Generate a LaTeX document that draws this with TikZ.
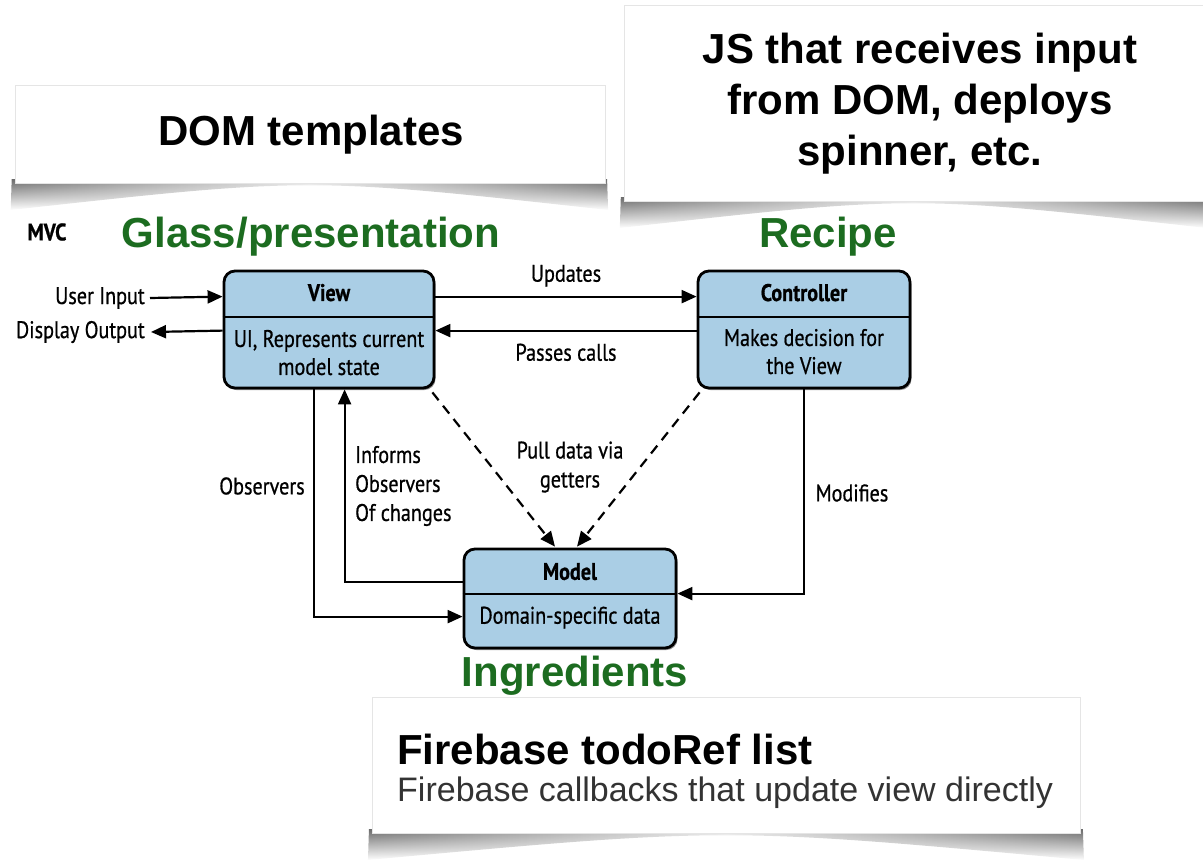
\documentclass[tikz,border=0pt]{standalone}
\usepackage{fontspec}
\setmainfont{Liberation Sans}
\newfontfamily\mvcfont[FakeStretch=0.84, FakeBold=0.7]{PT Sans}
\usetikzlibrary{calc,shadows,fadings,arrows.meta}
\definecolor{boxblue}{RGB}{170,206,229}
\definecolor{tagGreen}{RGB}{28,108,32}

% curled paper shadow under a note card: x left, x right, y of the card's lower edge
\newcommand\curlshade[3]{%
  \shade[left color=black!62, right color=black!62, middle color=black!10, path fading=south]
    ({#1-3},{#3-4}) -- ({#2+3},{#3-4}) -- ({#2+4},{#3+27})
    .. controls ({(#1+#2)/2},{#3-6}) .. ({#1-4},{#3+27}) -- cycle;}

\begin{document}
\begin{tikzpicture}[x=1pt,y=-1pt,
  note/.style={fill=white, draw=black!10, line width=0.8pt, inner sep=0pt},
  notehead/.style={font=\bfseries\fontsize{42}{51}\selectfont, align=center, inner sep=0pt},
  mvcbox/.style={draw=black, line width=2.8pt, fill=boxblue, rounded corners=11pt, inner sep=0pt,
    drop shadow={shadow xshift=1.5pt, shadow yshift=-2pt, opacity=0.45, fill=black}},
  divider/.style={line width=2.2pt},
  boxtitle/.style={font=\mvcfont\bfseries\fontsize{24}{28}\selectfont, inner sep=0pt},
  boxtext/.style={font=\mvcfont\fontsize{24}{28}\selectfont, align=center, inner sep=0pt},
  lbl/.style={font=\mvcfont\fontsize{24}{29}\selectfont, inner sep=0pt},
  tag/.style={font=\bfseries\fontsize{42}{48}\selectfont, text=tagGreen, inner sep=0pt},
  conn/.style={line width=2.2pt, -{Triangle[length=15pt,width=13pt]}},
  dconn/.style={conn, dash pattern=on 10pt off 7pt}
]
\useasboundingbox (0,0) rectangle (1203,860);

% ---- note cards ----
\curlshade{15}{605}{183}
\node[note, minimum width=590pt, minimum height=98pt] (dom) at (310,134) {};
\node[notehead] (domtext) at (311,135) {DOM templates};

\curlshade{624}{1203}{201}
\node[note, minimum width=590pt, minimum height=196pt] (js) at (919,103) {};
\node[notehead] (jstext) at (920,104) {JS that receives input\\from DOM, deploys\\spinner, etc.};

\curlshade{372}{1080}{833}
\node[note, minimum width=708pt, minimum height=136pt] (fb) at (726,765) {};
\node[font=\bfseries\fontsize{42}{48}\selectfont, anchor=west, inner sep=0pt] (fbtitle) at (397,749) {Firebase todoRef list};
\node[font=\fontsize{34}{40}\selectfont, text=black!80, anchor=west, inner sep=0pt] (fbsub) at (397,793) {Firebase callbacks that update view directly};

% ---- headings ----
\node[font=\mvcfont\bfseries\fontsize{24}{28}\selectfont, inner sep=0pt] (mvc) at (47,232) {MVC};
\node[tag] (glass) at (311,237) {Glass/presentation};
\node[tag] (recipe) at (828,237) {Recipe};
\node[tag] (ingr) at (575,676) {Ingredients};

% ---- MVC boxes ----
\node[mvcbox, minimum width=210pt, minimum height=117pt] (view) at (329,329.5) {};
\draw[divider] ($(view.north west)+(0,47)$) -- ($(view.north east)+(0,47)$);
\node[boxtitle] (viewT) at ($(view.north)+(0,23)$) {View};
\node[boxtext] (viewB) at ($(view.north)+(0,83)$) {UI, Represents current\\model state};

\node[mvcbox, minimum width=212pt, minimum height=117pt] (ctrl) at (804,329.5) {};
\draw[divider] ($(ctrl.north west)+(0,47)$) -- ($(ctrl.north east)+(0,47)$);
\node[boxtitle] (ctrlT) at ($(ctrl.north)+(0,23)$) {Controller};
\node[boxtext] (ctrlB) at ($(ctrl.north)+(0,82)$) {Makes decision for\\the View};

\node[mvcbox, minimum width=212pt, minimum height=99pt] (model) at (570,598.5) {};
\draw[divider] ($(model.north west)+(0,46)$) -- ($(model.north east)+(0,46)$);
\node[boxtitle] (modelT) at ($(model.north)+(0,24)$) {Model};
\node[boxtext] (modelB) at ($(model.north)+(0,70)$) {Domain-specific data};

% ---- outer input / output ----
\node[lbl, anchor=east] (uin) at (145,298) {User Input};
\node[lbl, anchor=east] (dout) at (145,332) {Display Output};
\draw[conn] ($(uin.east)+(5,0)$) -- ($(view.north west)+(0,27)$);
\draw[conn] ($(view.north west)+(0,61)$) -- ($(dout.east)+(6,0)$);

% ---- view <-> controller ----
\draw[conn] ($(view.north east)+(0,27)$) -- ($(ctrl.north west)+(0,27)$)
  node[lbl, midway, above=9pt] (upd) {Updates};
\draw[conn] ($(ctrl.north west)+(0,61)$) -- ($(view.north east)+(0,61)$)
  node[lbl, midway, below=12pt] (pass) {Passes calls};

% ---- observers ----
\draw[conn] ($(view.south west)+(91,0)$) |- ($(model.north west)+(0,69)$);
\node[lbl] (obs) at (262,486) {Observers};
\draw[conn] ($(model.north west)+(0,34)$) -| ($(view.south west)+(122,0)$);
\node[lbl, anchor=west, align=left] (inf) at (355,486) {Informs\\Observers\\Of changes};

% ---- getters ----
\draw[dconn] ($(view.south east)+(-3,3)$) -- ($(model.north)+(-15,-1)$);
\draw[dconn] ($(ctrl.south west)+(3,3)$) -- ($(model.north)+(7,-1)$);
\node[lbl, align=center] (pull) at (570,467) {Pull data via\\getters};

% ---- modifies ----
\draw[conn] ($(ctrl.south west)+(107,0)$) |- ($(model.north east)+(0,46)$);
\node[lbl] (mod) at (852,493) {Modifies};
\end{tikzpicture}
\end{document}
